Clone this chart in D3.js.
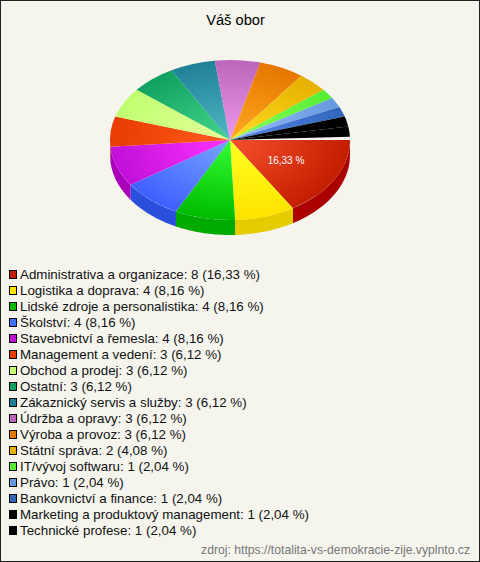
<!DOCTYPE html>
<html><head><meta charset="utf-8">
<script src="https://cdn.jsdelivr.net/npm/d3@7"></script>
<style>
html,body{margin:0;padding:0;background:#f5f5ee}
svg{display:block}
text{font-family:"Liberation Sans",Arial,sans-serif}
</style></head><body>
<svg id="c" width="480" height="562"></svg>
<script>
const titleText = "Váš obor";
const sourceText = "zdroj: https://totalita-vs-demokracie-zije.vyplnto.cz";
const categories = ["Administrativa a organizace","Logistika a doprava","Lidské zdroje a personalistika","Školství","Stavebnictví a řemesla","Management a vedení","Obchod a prodej","Ostatní","Zákaznický servis a služby","Údržba a opravy","Výroba a provoz","Státní správa","IT/vývoj softwaru","Právo","Bankovnictví a finance","Marketing a produktový management","Technické profese"];
const counts = [8,4,4,4,4,3,3,3,3,3,3,2,1,1,1,1,1];
const percents = ["16,33","8,16","8,16","8,16","8,16","6,12","6,12","6,12","6,12","6,12","6,12","4,08","2,04","2,04","2,04","2,04","2,04"];
const innerColors = ["#f5502e","#ffff22","#33ff33","#77a6ff","#ff33ff","#ff5c1e","#e4ff99","#44d68c","#50b8c4","#ee99ee","#ffaa22","#ffdd22","#88ff55","#99bbff","#5588ee","#000000","#000000"];
const outerColors = ["#c41e00","#ffe400","#00bb00","#3f5fff","#c010d8","#e83c00","#c0ff70","#10a060","#208098","#bb66bb","#e67700","#e6b000","#55ee33","#6699dd","#3366bb","#000000","#000000"];
const sideColors  = ["#aa0000","#e4cc00","#00aa00","#2a4fdd","#aa00bb","#cc3300","#aadd55","#008844","#116677","#994499","#cc6600","#cc9900","#33cc22","#4477bb","#224499","#000000","#000000"];
const legendColors = ["#c41e00","#ffe400","#00bb00","#3f6fff","#c010d8","#e83c00","#c8ff70","#10a060","#208098","#bb66bb","#e67700","#e6b000","#55ee33","#6699dd","#3366bb","#000000","#000000"];

const W=480,H=562,cx=230,cy=140,rx=120,ry=80,depth=15;
const svg=d3.select("#c");
svg.append("rect").attr("x",.5).attr("y",.5).attr("width",W-1).attr("height",H-1).attr("fill","#f5f5ee").attr("stroke","#222");
svg.append("text").attr("x",235.5).attr("y",25).attr("text-anchor","middle").attr("font-size",14.67).attr("fill","#000").text(titleText);

// the slices sweep about 357.6 degrees, leaving a thin gap where the circle closes
const sweep=357.6*Math.PI/180;
const pie=d3.pie().sort(null).startAngle(0).endAngle(sweep).value(d=>d)(counts);
// d3 angles are clockwise from 12 o'clock; the chart starts at 3 o'clock
const off=Math.PI/2;
const arc=d3.arc().innerRadius(0).outerRadius(rx).startAngle(d=>d.startAngle+off).endAngle(d=>d.endAngle+off);
const defs=svg.append("defs");
pie.forEach((d,i)=>{
  const g=defs.append("radialGradient").attr("id","g"+i).attr("gradientUnits","userSpaceOnUse").attr("cx",0).attr("cy",0).attr("r",rx);
  g.append("stop").attr("offset",0).attr("stop-color",innerColors[i]);
  g.append("stop").attr("offset",1).attr("stop-color",outerColors[i]);
});
// side wall
const sx=a=>cx+rx*Math.cos(a), sy=a=>cy+ry*Math.sin(a);
const line=d3.line();
const wall=svg.append("g");
pie.forEach((d,i)=>{
  const a0=d.startAngle, a1=Math.min(d.endAngle,Math.PI);
  if(a0>=Math.PI) return;
  const as=d3.range(0,41).map(k=>a0+(a1-a0)*k/40);
  const pts=as.map(a=>[sx(a),sy(a)]).concat(as.slice().reverse().map(a=>[sx(a),sy(a)+depth]));
  wall.append("path").attr("d",line(pts)+"Z").attr("fill",sideColors[i]);
});
const topFace=svg.append("g").attr("transform",`translate(${cx},${cy}) scale(1,${ry/rx})`);
topFace.selectAll("path").data(pie).join("path").attr("d",arc).attr("fill",(d,i)=>`url(#g${i})`);
svg.append("line").attr("x1",cx+38).attr("x2",cx+rx).attr("y1",cy-.5).attr("y2",cy-.5).attr("stroke","#fff").attr("stroke-width",1.2);
svg.append("text").attr("x",286).attr("y",164).attr("text-anchor","middle").attr("font-size",10).attr("fill","#fff").text(percents[0]+" %");

const rowY=d3.scaleLinear().domain([0,16]).range([279,535]);
const leg=svg.append("g").selectAll("g").data(categories).join("g").attr("transform",(d,i)=>`translate(0,${rowY(i)})`);
leg.append("rect").attr("x",9.5).attr("y",-8.5).attr("width",7).attr("height",8).attr("fill",(d,i)=>legendColors[i]).attr("stroke","#000");
leg.append("text").attr("x",20).attr("y",0).attr("font-size",13.33).attr("fill","#111").text((d,i)=>`${d}: ${counts[i]} (${percents[i]} %)`);
svg.append("text").attr("x",470).attr("y",554).attr("text-anchor","end").attr("font-size",12.2).attr("fill","#777").text(sourceText);
</script>
</body></html>
